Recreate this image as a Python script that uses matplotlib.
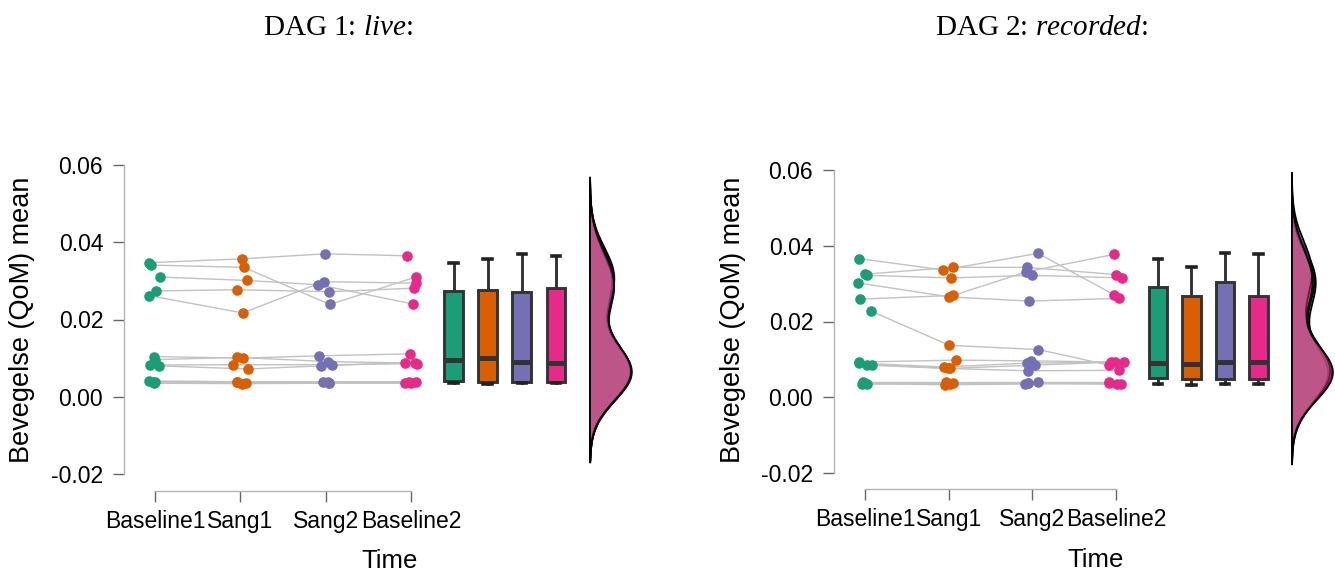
import numpy as np
import matplotlib
matplotlib.use("Agg")
import matplotlib.pyplot as plt

plt.rcParams['font.family'] = ['Liberation Sans', 'DejaVu Sans']
plt.rcParams['axes.unicode_minus'] = False
plt.rcParams['mathtext.fontset'] = 'custom'
plt.rcParams['mathtext.rm'] = 'Liberation Serif'
plt.rcParams['mathtext.it'] = 'Liberation Serif:italic'

time_labels = ["Baseline1", "Sang1", "Sang2", "Baseline2"]
colors = ["#1B9E77", "#D95F02", "#7570B3", "#E7298A"]
y_ticks = [-0.02, 0.0, 0.02, 0.04, 0.06]
y_tick_labels = ["-0.02", "0.00", "0.02", "0.04", "0.06"]

# Day 1 (live) - one value per participant at each time point
day1_baseline1 = [0.0347, 0.0341, 0.0310, 0.0274, 0.0262,
                  0.0104, 0.0096, 0.0082, 0.0080,
                  0.0041, 0.0039, 0.0037, 0.0035]
day1_sang1 = [0.0357, 0.0335, 0.0301, 0.0277, 0.0217,
              0.0100, 0.0102, 0.0083, 0.0072,
              0.0039, 0.0037, 0.0035, 0.0034]
day1_sang2 = [0.0370, 0.0239, 0.0290, 0.0272, 0.0298,
              0.0106, 0.0091, 0.0083, 0.0080,
              0.0039, 0.0037, 0.0036, 0.0035]
day1_baseline2 = [0.0365, 0.0310, 0.0240, 0.0281, 0.0294,
                  0.0111, 0.0087, 0.0086, 0.0088,
                  0.0039, 0.0037, 0.0036, 0.0035]

# Day 2 (recorded)
day2_baseline1 = [0.0366, 0.0325, 0.0322, 0.0302, 0.0259, 0.0227,
                  0.0093, 0.0090, 0.0086, 0.0085,
                  0.0040, 0.0038, 0.0036, 0.0034]
day2_sang1 = [0.0336, 0.0343, 0.0315, 0.0265, 0.0269, 0.0137,
              0.0098, 0.0080, 0.0076, 0.0076,
              0.0040, 0.0034, 0.0033, 0.0037]
day2_sang2 = [0.0380, 0.0343, 0.0322, 0.0254, 0.0331, 0.0126,
              0.0096, 0.0090, 0.0085, 0.0070,
              0.0040, 0.0037, 0.0035, 0.0038]
day2_baseline2 = [0.0271, 0.0324, 0.0315, 0.0261, 0.0377, 0.0085,
                  0.0093, 0.0093, 0.0093, 0.0071,
                  0.0040, 0.0038, 0.0036, 0.0034]

W, H = 1335, 576
fig = plt.figure(figsize=(W / 100, H / 100), dpi=100)


def nrd0(v):
    v = np.asarray(v)
    sd = v.std(ddof=1)
    iqr = np.subtract(*np.percentile(v, [75, 25]))
    return 0.9 * min(sd, iqr / 1.34) * len(v) ** (-0.2)


def kde(v, bw, grid):
    v = np.asarray(v)
    z = (grid[:, None] - v[None, :]) / bw
    return np.exp(-0.5 * z ** 2).sum(axis=1) / (len(v) * bw * np.sqrt(2 * np.pi))


def draw_panel(px_left, px_zero, unit, px_top, px_bottom, spine_out,
               groups, seed):
    x_lo = (px_left - px_zero) / unit
    x_hi = 5.62
    width_px = (x_hi - x_lo) * unit
    ax = fig.add_axes([px_left / W, (H - px_bottom) / H,
                       width_px / W, (px_bottom - px_top) / H])
    ax.set_xlim(x_lo, x_hi)
    ax.set_ylim(-0.02, 0.06)
    ax.patch.set_alpha(0)

    rng = np.random.default_rng(seed)
    n = len(groups[0])
    xs = [i + rng.uniform(-0.09, 0.09, n) for i in range(4)]

    # participant trajectories
    for j in range(n):
        ax.plot([xs[i][j] for i in range(4)], [groups[i][j] for i in range(4)],
                color="#c2c2c2", lw=1.0, zorder=1)
    for i in range(4):
        ax.scatter(xs[i], groups[i], s=58, color=colors[i], lw=0, zorder=3)

    # box plots
    pos = [3.5, 3.9, 4.3, 4.7]
    bp = ax.boxplot(groups, positions=pos, widths=0.22, patch_artist=True,
                    showfliers=False, capwidths=0.1, manage_ticks=False,
                    boxprops=dict(edgecolor="#333333", lw=2.1),
                    whiskerprops=dict(color="#333333", lw=2.1),
                    capprops=dict(color="#222222", lw=2.6),
                    medianprops=dict(color="#333333", lw=3.6))
    for patch, c in zip(bp["boxes"], colors):
        patch.set_facecolor(c)

    # half-violin densities
    base = 5.1
    curves = []
    for g in groups:
        bw = nrd0(g)
        grid = np.linspace(min(g) - 3 * bw, max(g) + 3 * bw, 400)
        curves.append((grid, kde(g, bw, grid)))
    dmax = max(d.max() for _, d in curves)
    for (grid, d), c in zip(curves, colors):
        xv = base + d / dmax * 0.49
        ax.fill_betweenx(grid, base, xv, color=c, alpha=0.5, lw=0, zorder=2)
        ax.plot(xv, grid, color="black", lw=1.3, zorder=2)
        ax.plot([base, base], [grid[0], grid[-1]], color="black", lw=1.2, zorder=2)

    # axes styling
    for s in ["top", "right"]:
        ax.spines[s].set_visible(False)
    ax.spines["left"].set_bounds(-0.02, 0.06)
    ax.spines["bottom"].set_bounds(0, 3)
    ax.spines["bottom"].set_position(("outward", spine_out))
    for s in ["left", "bottom"]:
        ax.spines[s].set_color("#b3b3b3")
        ax.spines[s].set_linewidth(1.0)
    ax.set_yticks(y_ticks)
    ax.set_yticklabels(y_tick_labels)
    ax.set_xticks(range(4))
    ax.set_xticklabels(time_labels)
    ax.tick_params(axis="both", colors="#666666", labelcolor="black",
                   labelsize=16.5, length=8, width=1.0)
    ax.tick_params(axis="y", pad=7)
    ax.tick_params(axis="x", pad=6)
    return ax


draw_panel(124, 155, 85.3, 165, 474, 12.2,
           [day1_baseline1, day1_sang1, day1_sang2, day1_baseline2], 3)
draw_panel(834, 865, 83.7, 170, 473, 11.5,
           [day2_baseline1, day2_sang1, day2_sang2, day2_baseline2], 11)

# titles, axis labels
fig.text(338 / W, 1 - 28 / H, r"DAG 1: $\mathit{live}$:", ha="center", va="center",
         fontsize=21, family="Liberation Serif")
fig.text(1042 / W, 1 - 28 / H, r"DAG 2: $\mathit{recorded}$:", ha="center", va="center",
         fontsize=21, family="Liberation Serif")
for x in (22, 733):
    fig.text(x / W, 1 - 320 / H, "Bevegelse (QoM) mean", rotation=90,
             ha="center", va="center", fontsize=19.5)
fig.text(390 / W, 1 - 561 / H, "Time", ha="center", va="center", fontsize=18.5)
fig.text(1096 / W, 1 - 560 / H, "Time", ha="center", va="center", fontsize=18.5)

fig.savefig("out.png", dpi=100)
